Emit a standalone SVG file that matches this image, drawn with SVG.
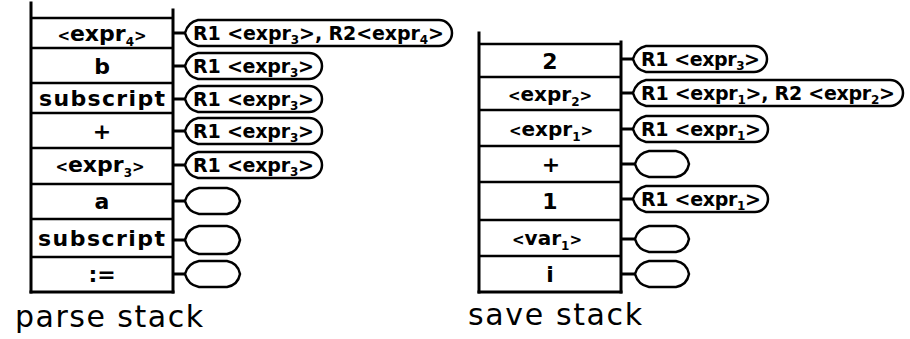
<svg xmlns="http://www.w3.org/2000/svg" width="910" height="339" viewBox="0 0 910 339">
  <style>
    .frame { stroke: #000; stroke-width: 3; fill: none; stroke-linecap: square; }
    .rule { stroke: #000; stroke-width: 2.5; fill: none; }
    .link { stroke: #000; stroke-width: 3; fill: none; }
    .tag { stroke: #000; stroke-width: 2.5; fill: #fff; stroke-linejoin: round; }
    .cell { font-family: "DejaVu Sans", "Liberation Sans", sans-serif; font-weight: bold; font-size: 22px; fill: #000; }
    .cell.narrow { font-size: 20px; }
    .note { font-family: "DejaVu Sans", "Liberation Sans", sans-serif; font-weight: bold; font-size: 19px; fill: #000; }
    .sub { font-size: 12px; }
    .br { font-size: 15px; }
    .title { font-family: "DejaVu Sans", "Liberation Sans", sans-serif; font-size: 30px; fill: #000; }
  </style>
  <rect width="910" height="339" fill="#fff"/>

  <!-- parse stack frame -->
  <g id="parse-stack">
    <line class="frame" x1="31" y1="3" x2="31" y2="292"/>
    <line class="frame" x1="173" y1="10" x2="173" y2="292"/>
    <line class="rule" x1="31" y1="18" x2="173" y2="18"/>
    <line class="rule" x1="31" y1="48" x2="173" y2="48"/>
    <line class="rule" x1="31" y1="83" x2="173" y2="83"/>
    <line class="rule" x1="31" y1="113" x2="173" y2="113"/>
    <line class="rule" x1="31" y1="148" x2="173" y2="148"/>
    <line class="rule" x1="31" y1="184" x2="173" y2="184"/>
    <line class="rule" x1="31" y1="219" x2="173" y2="219"/>
    <line class="rule" x1="31" y1="257" x2="173" y2="257"/>
    <line class="frame" x1="31" y1="292" x2="173" y2="292"/>
    <text class="title" x="15" y="327" textLength="188" lengthAdjust="spacing">parse stack</text>
  </g>

  <g id="p1"><text class="cell" x="102" y="41" text-anchor="middle"><tspan class="br">&lt;</tspan>expr<tspan class="sub" dy="5">4</tspan><tspan class="br" dy="-5">&gt;</tspan></text></g>
  <g id="p2"><text class="cell" x="102" y="73.5" text-anchor="middle">b</text></g>
  <g id="p3"><text class="cell" x="39" y="106" textLength="126" lengthAdjust="spacing">subscript</text></g>
  <g id="p4"><text class="cell" x="102" y="138.5" text-anchor="middle">+</text></g>
  <g id="p5"><text class="cell" x="100" y="172" text-anchor="middle"><tspan class="br">&lt;</tspan>expr<tspan class="sub" dy="5">3</tspan><tspan class="br" dy="-5">&gt;</tspan></text></g>
  <g id="p6"><text class="cell" x="102" y="209" text-anchor="middle">a</text></g>
  <g id="p7"><text class="cell" x="38" y="246" textLength="127" lengthAdjust="spacing">subscript</text></g>
  <g id="p8"><text class="cell" x="102" y="282" text-anchor="middle">:=</text></g>

  <!-- save stack frame -->
  <g id="save-stack">
    <line class="frame" x1="479" y1="33" x2="479" y2="292"/>
    <line class="frame" x1="621" y1="42" x2="621" y2="292"/>
    <line class="rule" x1="479" y1="44" x2="621" y2="44"/>
    <line class="rule" x1="479" y1="77" x2="621" y2="77"/>
    <line class="rule" x1="479" y1="110" x2="621" y2="110"/>
    <line class="rule" x1="479" y1="146" x2="621" y2="146"/>
    <line class="rule" x1="479" y1="182" x2="621" y2="182"/>
    <line class="rule" x1="479" y1="220" x2="621" y2="220"/>
    <line class="rule" x1="479" y1="256" x2="621" y2="256"/>
    <line class="frame" x1="479" y1="292" x2="621" y2="292"/>
    <text class="title" x="468" y="325" textLength="174" lengthAdjust="spacing">save stack</text>
  </g>

  <g id="s1"><text class="cell" x="550" y="68.5" text-anchor="middle">2</text></g>
  <g id="s2"><text class="cell narrow" x="550" y="101" text-anchor="middle"><tspan class="br">&lt;</tspan>expr<tspan class="sub" dy="5">2</tspan><tspan class="br" dy="-5">&gt;</tspan></text></g>
  <g id="s3"><text class="cell narrow" x="551" y="135.5" text-anchor="middle"><tspan class="br">&lt;</tspan>expr<tspan class="sub" dy="5">1</tspan><tspan class="br" dy="-5">&gt;</tspan></text></g>
  <g id="s4"><text class="cell" x="551" y="172" text-anchor="middle">+</text></g>
  <g id="s5"><text class="cell" x="550" y="209" text-anchor="middle">1</text></g>
  <g id="s6"><text class="cell narrow" x="547" y="245" text-anchor="middle"><tspan class="br">&lt;</tspan>var<tspan class="sub" dy="5">1</tspan><tspan class="br" dy="-5">&gt;</tspan></text></g>
  <g id="s7"><text class="cell" x="550" y="282" text-anchor="middle">i</text></g>

  <!-- connectors from stack entries to their register tags -->
  <g id="connectors">
    <line class="link" x1="173" y1="33" x2="186" y2="33"/>
    <line class="link" x1="173" y1="66" x2="186" y2="66"/>
    <line class="link" x1="173" y1="99" x2="186" y2="99"/>
    <line class="link" x1="173" y1="131" x2="186" y2="131"/>
    <line class="link" x1="173" y1="165" x2="186" y2="165"/>
    <line class="link" x1="173" y1="201" x2="186" y2="201"/>
    <line class="link" x1="173" y1="240" x2="186" y2="240"/>
    <line class="link" x1="173" y1="274" x2="186" y2="274"/>
    <line class="link" x1="621" y1="59" x2="634" y2="59"/>
    <line class="link" x1="621" y1="93" x2="634" y2="93"/>
    <line class="link" x1="621" y1="129" x2="634" y2="129"/>
    <line class="link" x1="621" y1="164" x2="636" y2="164"/>
    <line class="link" x1="621" y1="199" x2="634" y2="199"/>
    <line class="link" x1="621" y1="239" x2="636" y2="239"/>
    <line class="link" x1="621" y1="274" x2="636" y2="274"/>
  </g>

  <!-- register tags, parse stack -->
  <g id="t-p1">
    <path class="tag" d="M198,20 L439,20 A13,13 0 0 1 439,46 L198,46 Q188,44 185,33 Q188,22 198,20 Z"/>
    <text class="note" x="193" y="40" textLength="251" lengthAdjust="spacing">R1 &lt;expr<tspan class="sub" dy="4">3</tspan><tspan dy="-4">&gt;, R2&lt;expr</tspan><tspan class="sub" dy="4">4</tspan><tspan dy="-4">&gt;</tspan></text>
  </g>
  <g id="t-p2">
    <path class="tag" d="M198,53 L309,53 A13,13 0 0 1 309,79 L198,79 Q188,77 185,66 Q188,55 198,53 Z"/>
    <text class="note" x="193" y="73" textLength="121" lengthAdjust="spacing">R1 &lt;expr<tspan class="sub" dy="4">3</tspan><tspan dy="-4">&gt;</tspan></text>
  </g>
  <g id="t-p3">
    <path class="tag" d="M198,86 L309,86 A13,13 0 0 1 309,112 L198,112 Q188,110 185,99 Q188,88 198,86 Z"/>
    <text class="note" x="193" y="106" textLength="121" lengthAdjust="spacing">R1 &lt;expr<tspan class="sub" dy="4">3</tspan><tspan dy="-4">&gt;</tspan></text>
  </g>
  <g id="t-p4">
    <path class="tag" d="M198,118 L309,118 A13,13 0 0 1 309,144 L198,144 Q188,142 185,131 Q188,120 198,118 Z"/>
    <text class="note" x="193" y="138" textLength="121" lengthAdjust="spacing">R1 &lt;expr<tspan class="sub" dy="4">3</tspan><tspan dy="-4">&gt;</tspan></text>
  </g>
  <g id="t-p5">
    <path class="tag" d="M198,152 L309,152 A13,13 0 0 1 309,178 L198,178 Q188,176 185,165 Q188,154 198,152 Z"/>
    <text class="note" x="193" y="172" textLength="121" lengthAdjust="spacing">R1 &lt;expr<tspan class="sub" dy="4">3</tspan><tspan dy="-4">&gt;</tspan></text>
  </g>
  <g id="t-p6">
    <path class="tag" d="M199,188 L227,188 Q238,190 240,201 Q238,212 227,214 L199,214 Q188,212 185,201 Q188,190 199,188 Z"/>
  </g>
  <g id="t-p7">
    <path class="tag" d="M199,226 L227,226 Q238,228 240,240 Q238,252 227,254 L199,254 Q188,252 185,240 Q188,228 199,226 Z"/>
  </g>
  <g id="t-p8">
    <path class="tag" d="M199,261 L227,261 Q238,263 240,274 Q238,285 227,287 L199,287 Q188,285 185,274 Q188,263 199,261 Z"/>
  </g>

  <!-- register tags, save stack -->
  <g id="t-s1">
    <path class="tag" d="M646,46 L754,46 A13,13 0 0 1 754,72 L646,72 Q636,70 633,59 Q636,48 646,46 Z"/>
    <text class="note" x="641" y="66" textLength="119" lengthAdjust="spacing">R1 &lt;expr<tspan class="sub" dy="4">3</tspan><tspan dy="-4">&gt;</tspan></text>
  </g>
  <g id="t-s2">
    <path class="tag" d="M646,80 L890,80 A13,13 0 0 1 890,106 L646,106 Q636,104 633,93 Q636,82 646,80 Z"/>
    <text class="note" x="641" y="100" textLength="254" lengthAdjust="spacing">R1 &lt;expr<tspan class="sub" dy="4">1</tspan><tspan dy="-4">&gt;, R2 &lt;expr</tspan><tspan class="sub" dy="4">2</tspan><tspan dy="-4">&gt;</tspan></text>
  </g>
  <g id="t-s3">
    <path class="tag" d="M646,116 L755,116 A13,13 0 0 1 755,142 L646,142 Q636,140 633,129 Q636,118 646,116 Z"/>
    <text class="note" x="641" y="136" textLength="120" lengthAdjust="spacing">R1 &lt;expr<tspan class="sub" dy="4">1</tspan><tspan dy="-4">&gt;</tspan></text>
  </g>
  <g id="t-s4">
    <path class="tag" d="M649,151 L676,151 Q687,153 689,164 Q687,175 676,177 L649,177 Q638,175 635,164 Q638,153 649,151 Z"/>
  </g>
  <g id="t-s5">
    <path class="tag" d="M646,186 L755,186 A13,13 0 0 1 755,212 L646,212 Q636,210 633,199 Q636,188 646,186 Z"/>
    <text class="note" x="641" y="206" textLength="120" lengthAdjust="spacing">R1 &lt;expr<tspan class="sub" dy="4">1</tspan><tspan dy="-4">&gt;</tspan></text>
  </g>
  <g id="t-s6">
    <path class="tag" d="M649,226 L676,226 Q687,228 689,239 Q687,250 676,252 L649,252 Q638,250 635,239 Q638,228 649,226 Z"/>
  </g>
  <g id="t-s7">
    <path class="tag" d="M649,261 L676,261 Q687,263 689,274 Q687,285 676,287 L649,287 Q638,285 635,274 Q638,263 649,261 Z"/>
  </g>
</svg>
